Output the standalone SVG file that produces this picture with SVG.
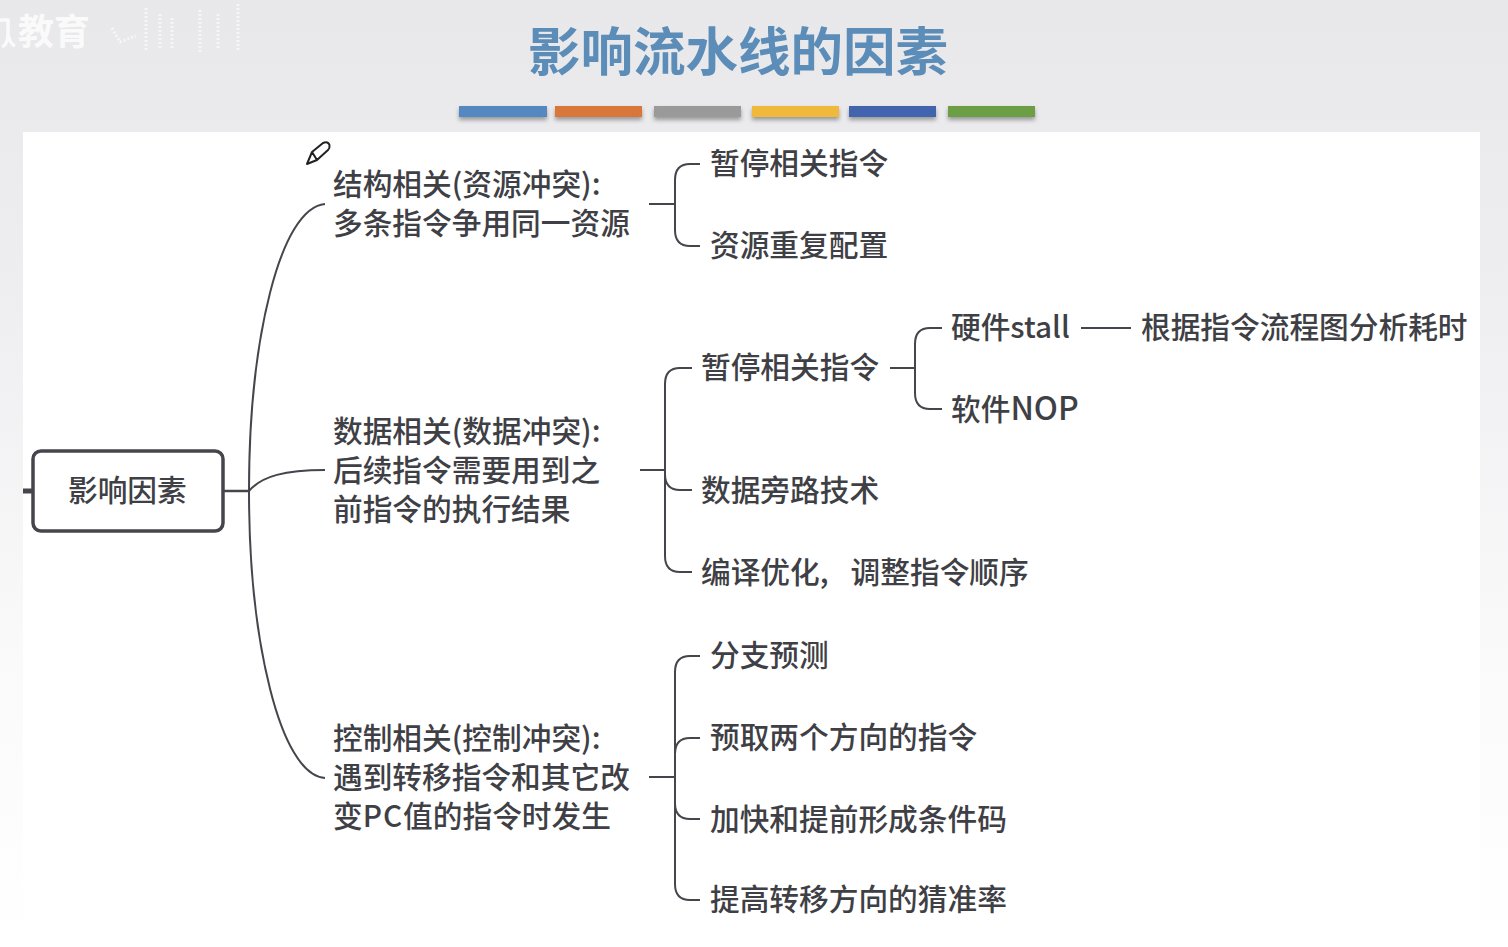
<svg xmlns="http://www.w3.org/2000/svg" width="1508" height="947" viewBox="0 0 1508 947">
<style>
text{font-family:"Noto Sans CJK SC","Noto Sans",sans-serif;fill:#3f3f46;font-size:29.7px;font-weight:500}
.c{fill:none;stroke:#45454c;stroke-width:2}
</style>
<defs>
<linearGradient id="bg" x1="0" y1="0" x2="0" y2="1"><stop offset="0" stop-color="#e8e7e9"/><stop offset="0.3" stop-color="#eeeef0"/><stop offset="0.7" stop-color="#fafafb"/><stop offset="1" stop-color="#ffffff"/></linearGradient>
<filter id="sh" x="-5%" y="-30%" width="110%" height="190%"><feDropShadow dx="0" dy="3" stdDeviation="2" flood-color="#000" flood-opacity="0.35"/></filter>
</defs>
<rect width="1508" height="947" fill="url(#bg)"/>
<rect x="23" y="132" width="1457" height="815" fill="#fff"/>
<path d="M0 20H8V34Q8 44 2 47M8 34Q10 44 15 46" fill="none" stroke="#fafafa" stroke-width="3.500"/>
<text x="18" y="45" style="fill:#fafafa;font-size:36px;font-weight:700">教育</text>
<path d="M112 28L120 42L136 36M146 8V50M160 14V50M172 18V50M200 10V52M218 14V50M238 4V50" fill="none" stroke="#f6f6f7" stroke-width="3" stroke-dasharray="2 2"/>
<text x="528" y="71" style="fill:#5b8db8;font-size:52.5px;font-weight:700">影响流水线的因素</text>
<g filter="url(#sh)">
<rect x="459" y="106" width="88" height="11" fill="#5588c0"/>
<rect x="555" y="106" width="87" height="11" fill="#d9773a"/>
<rect x="654" y="106" width="87" height="11" fill="#9a9a9a"/>
<rect x="752" y="106" width="87" height="11" fill="#f0b93a"/>
<rect x="849" y="106" width="87" height="11" fill="#4264ad"/>
<rect x="948" y="106" width="87" height="11" fill="#6c9e45"/>
</g>
<path d="M307 164L312 152L323 143Q328 141 329.500 145Q330 148 328 150L317 160ZM312 152L317 160" fill="#fff" stroke="#222" stroke-width="2" stroke-linejoin="round"/>
<g id="connectors">
<path class="c" style="stroke-width:5" d="M23 491H35"/>
<path class="c" style="stroke-width:2.500" d="M224 491H249"/>
<path class="c" d="M249 491C249 340 280 208 325 204"/>
<path class="c" d="M249 491C262 476 285 470 325 470"/>
<path class="c" d="M249 491C249 640 280 775 325 778"/>
<path class="c" d="M649 204H675M700 164H690Q675 164 675 180V230Q675 246 690 246H700"/>
<path class="c" d="M640 470H665M692 368H680Q665 368 665 384V556Q665 572 680 572H692M665 474Q665 490 680 490H692"/>
<path class="c" d="M890 368H915M942 328H930Q915 328 915 344V393Q915 409 930 409H942"/>
<path class="c" d="M1081 328H1131"/>
<path class="c" d="M649 777H675M700 656H690Q675 656 675 672V884Q675 900 690 900H700M675 754Q675 738 690 738H700M675 803Q675 819 690 819H700"/>
</g>
<g id="root"><rect x="33" y="451" width="190" height="80" rx="8" fill="#fff" stroke="#45454c" stroke-width="3.500"/><text x="68" y="501">影响因素</text></g>
<g id="n1"><text x="333" y="195">结构相关(资源冲突):</text><text x="333" y="234">多条指令争用同一资源</text></g>
<g id="n2"><text x="333" y="442">数据相关(数据冲突):</text><text x="333" y="481">后续指令需要用到之</text><text x="333" y="520">前指令的执行结果</text></g>
<g id="n3"><text x="333" y="749">控制相关(控制冲突):</text><text x="333" y="788">遇到转移指令和其它改</text><text x="333" y="827">变<tspan letter-spacing="1">PC</tspan>值的指令时发生</text></g>
<g id="a1"><text x="710" y="174">暂停相关指令</text></g>
<g id="a2"><text x="710" y="256">资源重复配置</text></g>
<g id="b1"><text x="701" y="378">暂停相关指令</text></g>
<g id="b2"><text x="701" y="501">数据旁路技术</text></g>
<g id="b3"><text x="701" y="583">编译优化,<tspan dx="22">调整指令顺序</tspan></text></g>
<g id="c1"><text x="951" y="338">硬件stall</text></g>
<g id="c2"><text x="951" y="420">软件<tspan style="font-size:32px">NOP</tspan></text></g>
<g id="d1"><text x="1141" y="338">根据指令流程图分析耗时</text></g>
<g id="e1"><text x="710" y="666">分支预测</text></g>
<g id="e2"><text x="710" y="748">预取两个方向的指令</text></g>
<g id="e3"><text x="710" y="830">加快和提前形成条件码</text></g>
<g id="e4"><text x="710" y="910">提高转移方向的猜准率</text></g>
</svg>
